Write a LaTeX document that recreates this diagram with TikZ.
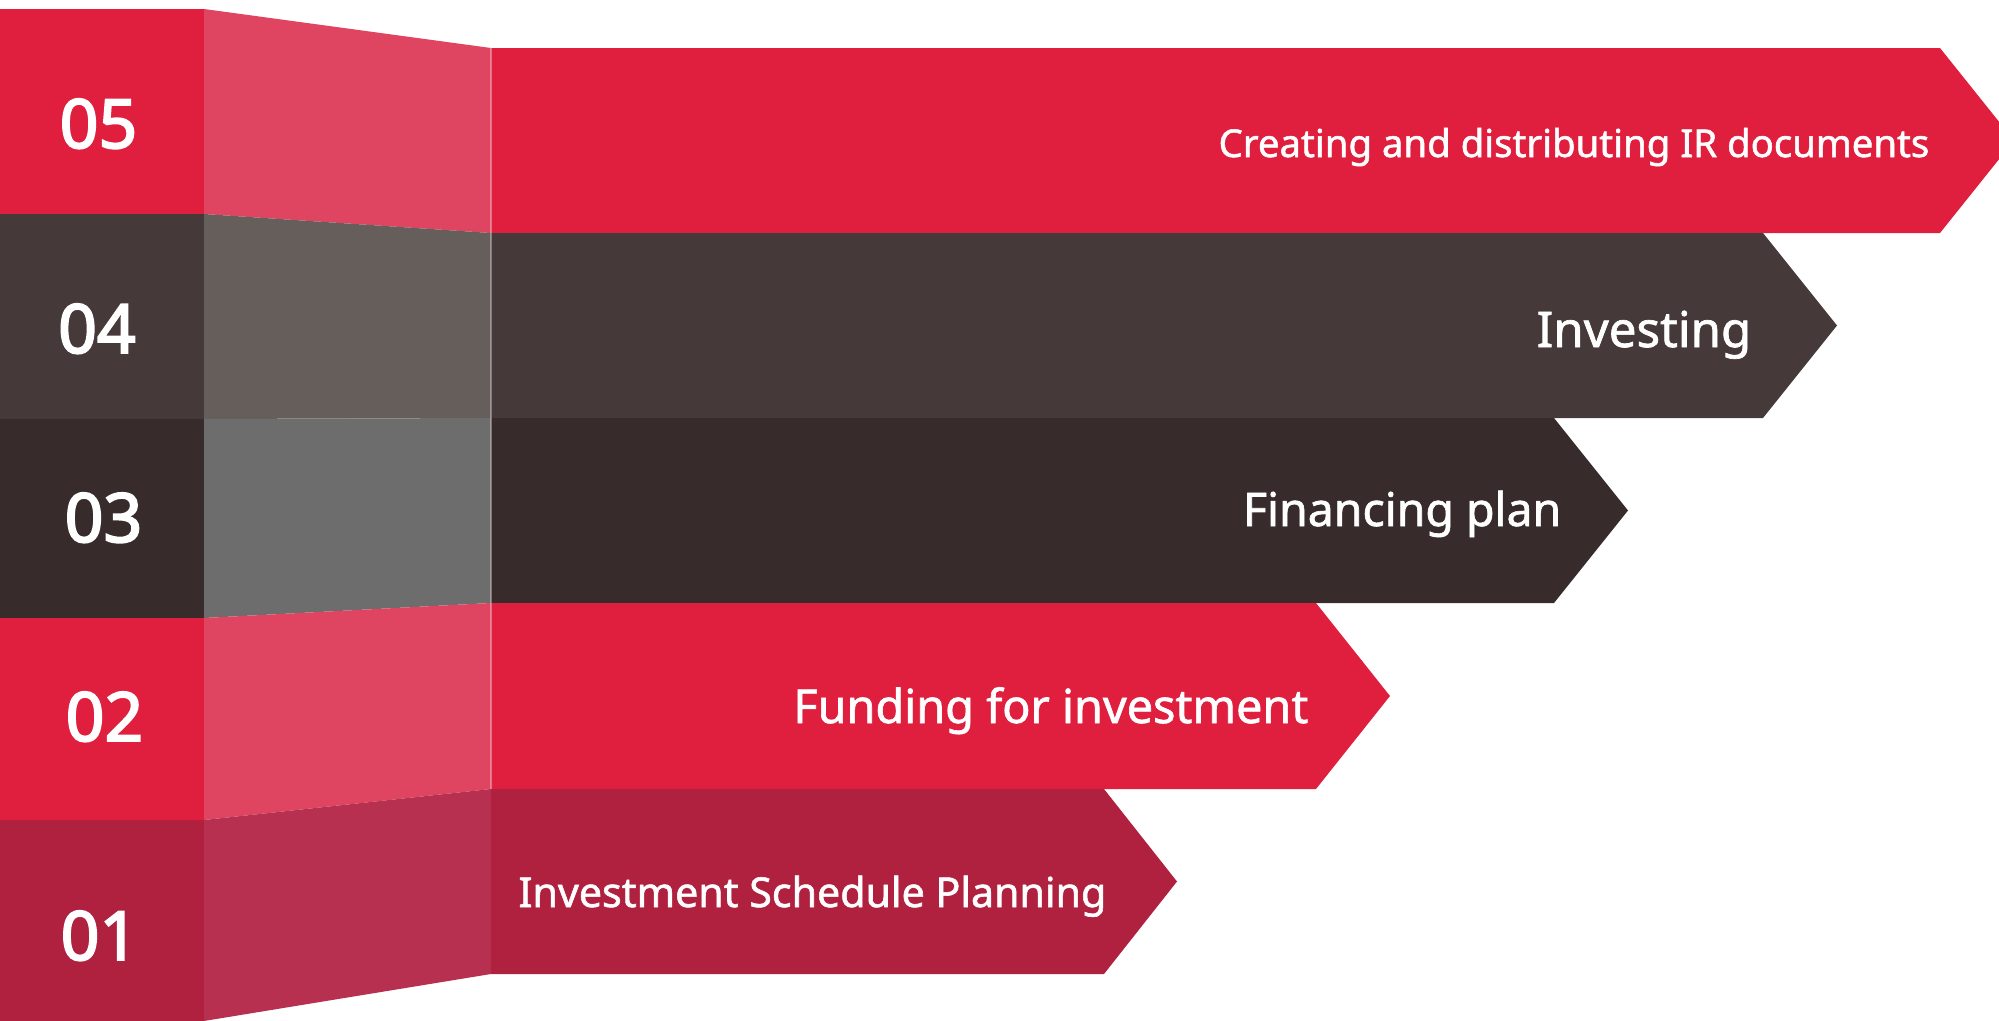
\documentclass[tikz,border=0pt]{standalone}
\usepackage{fontspec}
\setmainfont{Noto Sans}[FakeBold=1.4]
\newfontfamily\numfont{Noto Sans}[FakeBold=2.8]
\usetikzlibrary{positioning}
\definecolor{irred}{HTML}{E01F3E}
\definecolor{irredlt}{HTML}{DF4461}
\definecolor{irbrown}{HTML}{453A39}
\definecolor{irbrownlt}{HTML}{665E5B}
\definecolor{irdark}{HTML}{372C2B}
\definecolor{irgrey}{HTML}{6D6D6D}
\definecolor{irwine}{HTML}{B02140}
\definecolor{irwinelt}{HTML}{B8304F}
\newcommand{\lblsize}[1]{\fontsize{#1}{#1}\selectfont}

\begin{document}
\begin{tikzpicture}[x=0.01cm, y=-0.01cm,
  numlbl/.style={text=white, font=\numfont\lblsize{19.3}, inner sep=0pt, anchor=base},
  steplbl/.style={text=white, font=\bfseries, inner sep=0pt, anchor=base east}]
\useasboundingbox (0,0) rectangle (1999,1021);
\clip (0,0) rectangle (1999,1021);
% 05
\fill[irred] (0,9) rectangle (204,214);
\fill[irredlt] (204,9) -- (491,48) -- (491,233) -- (204,214) -- cycle;
\fill[irred] (491,48) -- (1940,48) -- (2014,140.5) -- (1940,233) -- (491,233) -- cycle;
% 04
\fill[irbrown] (0,214) rectangle (204,419);
\fill[irbrownlt] (204,214) -- (491,233) -- (491,418) -- (204,419) -- cycle;
\fill[irbrown] (491,233) -- (1763,233) -- (1837,325.5) -- (1763,418) -- (491,418) -- cycle;
% 03
\fill[irdark] (0,419) rectangle (204,618);
\fill[irgrey] (204,419) -- (491,418) -- (491,603) -- (204,618) -- cycle;
\fill[irdark] (491,418) -- (1554,418) -- (1628,510.5) -- (1554,603) -- (491,603) -- cycle;
% 02
\fill[irred] (0,618) rectangle (204,820);
\fill[irredlt] (204,618) -- (491,603) -- (491,789) -- (204,820) -- cycle;
\fill[irred] (491,603) -- (1316,603) -- (1390,696) -- (1316,789) -- (491,789) -- cycle;
% 01
\fill[irwine] (0,820) rectangle (204,1021);
\fill[irwinelt] (204,820) -- (491,789) -- (491,974) -- (204,1021) -- cycle;
\fill[irwine] (491,789) -- (1104,789) -- (1177,881.5) -- (1104,974) -- (491,974) -- cycle;
\draw[white, opacity=0.35, line width=0.4pt] (491,48) -- (491,789);

\node[numlbl] (n05) at (98.5,148) {05};
\node[numlbl] (n04) at (97,353) {04};
\node[numlbl] (n03) at (103.5,542) {03};
\node[numlbl] (n02) at (104.5,741) {02};
\node[numlbl] (n01) at (99.5,960) {01};

\node[steplbl] (t05) at (1930,157) {\lblsize{10.9}Creating and distributing IR documents};
\node[steplbl] (t04) at (1752,347) {\lblsize{14}Investing};
\node[steplbl] (t03) at (1562,526) {\lblsize{13.2}Financing plan};
\node[steplbl] (t02) at (1309,723) {\lblsize{13.3}Funding for investment};
\node[steplbl] (t01) at (1107,907) {\lblsize{11.7}Investment Schedule Planning};
\end{tikzpicture}
\end{document}
